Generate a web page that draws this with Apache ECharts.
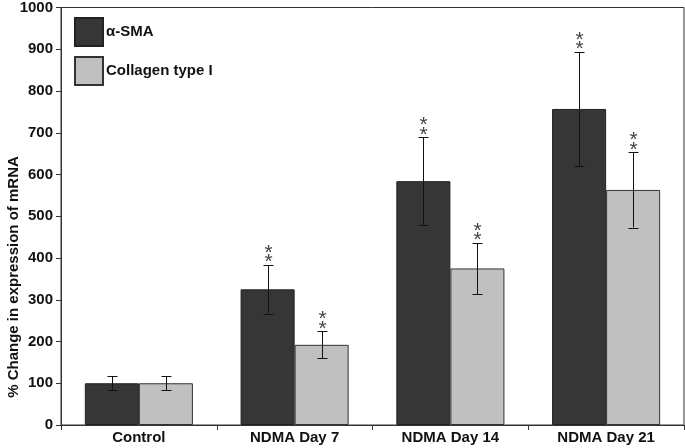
<!DOCTYPE html>
<html><head><meta charset="utf-8">
<script src="https://cdn.jsdelivr.net/npm/echarts@6/dist/echarts.min.js"></script>
<style>html,body{margin:0;padding:0;background:#fff}#c{width:685px;height:448px}</style>
</head><body><div id="c"></div>
<script>
var categories = ['Control', 'NDMA Day 7', 'NDMA Day 14', 'NDMA Day 21'];
var smaValues = [100, 325, 584, 757];
var smaErr = [17, 58, 105, 136];
var collagenValues = [100, 192, 375, 563];
var collagenErr = [17, 32, 61, 90];
var smaSig = [false, true, true, true];
var collagenSig = [false, true, true, true];
var yTicks = [0, 100, 200, 300, 400, 500, 600, 700, 800, 900, 1000];

var FONT = '"Liberation Sans", Arial, sans-serif';
var BAR_FRAC = 0.347;

function errData(vals, errs, sig) {
  return vals.map(function (v, i) { return [i, v - errs[i], v + errs[i], sig[i] ? 1 : 0]; });
}
function errSeries(data, side) {
  return {
    type: 'custom', silent: true, z: 5,
    data: data,
    renderItem: function (params, api) {
      var idx = api.value(0);
      var catW = api.size([1, 0])[0];
      var bw = catW * BAR_FRAC;
      var lo = api.coord([idx, api.value(1)]);
      var hi = api.coord([idx, api.value(2)]);
      var x = Math.round(lo[0] + side * bw / 2) + 0.5;
      var cap = 5;
      var st = { stroke: '#111', lineWidth: 1 };
      var ch = [
        { type: 'line', shape: { x1: x, y1: hi[1], x2: x, y2: lo[1] }, style: st },
        { type: 'line', shape: { x1: x - cap, y1: Math.round(hi[1]) + 0.5, x2: x + cap, y2: Math.round(hi[1]) + 0.5 }, style: st },
        { type: 'line', shape: { x1: x - cap, y1: Math.round(lo[1]) + 0.5, x2: x + cap, y2: Math.round(lo[1]) + 0.5 }, style: st }
      ];
      if (api.value(3)) {
        ch.push({ type: 'text', style: { text: '*', x: x, y: hi[1] + 8, align: 'center', verticalAlign: 'bottom', font: '21px ' + FONT, fill: '#444' } });
        ch.push({ type: 'text', style: { text: '*', x: x, y: hi[1] - 1.5, align: 'center', verticalAlign: 'bottom', font: '21px ' + FONT, fill: '#444' } });
      }
      return { type: 'group', children: ch };
    }
  };
}

var chart = echarts.init(document.getElementById('c'));
chart.setOption({
  animation: false,
  backgroundColor: '#fff',
  grid: { left: 61, right: 1, top: 6, bottom: 23, show: true, borderColor: '#333', borderWidth: 1, backgroundColor: 'transparent' },
  legend: {
    orient: 'vertical', left: 74, top: 17, padding: 0, itemWidth: 28, itemHeight: 28, itemGap: 9,
    icon: 'rect',
    textStyle: { fontFamily: FONT, fontWeight: 'bold', fontSize: 15, color: '#111', padding: [0, 0, 0, -2] },
    data: ['α-SMA', 'Collagen type I']
  },
  xAxis: {
    type: 'category', data: categories,
    axisLine: { lineStyle: { color: '#333' } },
    axisTick: { show: true, length: 5, lineStyle: { color: '#333' } },
    axisLabel: { fontFamily: FONT, fontWeight: 'bold', fontSize: 15, color: '#111', margin: 5 }
  },
  yAxis: {
    type: 'value', min: 0, max: 1000, interval: 100,
    axisLine: { show: true, lineStyle: { color: '#333' } },
    axisTick: { show: true, length: 5, lineStyle: { color: '#333' } },
    splitLine: { show: false },
    axisLabel: { fontFamily: FONT, fontWeight: 'bold', fontSize: 15, color: '#111', margin: 8,
      formatter: function (v) { return yTicks.indexOf(v) >= 0 ? String(v) : ''; } }
  },
  graphic: [{
    type: 'text', x: 14, y: 277, rotation: Math.PI / 2,
    style: { text: '% Change in expression of mRNA', font: 'bold 15px ' + FONT, fill: '#111', align: 'center', verticalAlign: 'middle' }
  }],
  series: [
    { name: 'α-SMA', type: 'bar', data: smaValues, barWidth: (BAR_FRAC * 100) + '%', barGap: '0%',
      itemStyle: { color: '#363636', borderColor: '#222', borderWidth: 1 } },
    { name: 'Collagen type I', type: 'bar', data: collagenValues, barWidth: (BAR_FRAC * 100) + '%', barGap: '0%',
      itemStyle: { color: '#c0c0c0', borderColor: '#333', borderWidth: 1 } },
    errSeries(errData(smaValues, smaErr, smaSig), -1),
    errSeries(errData(collagenValues, collagenErr, collagenSig), 1)
  ]
});
</script></body></html>
